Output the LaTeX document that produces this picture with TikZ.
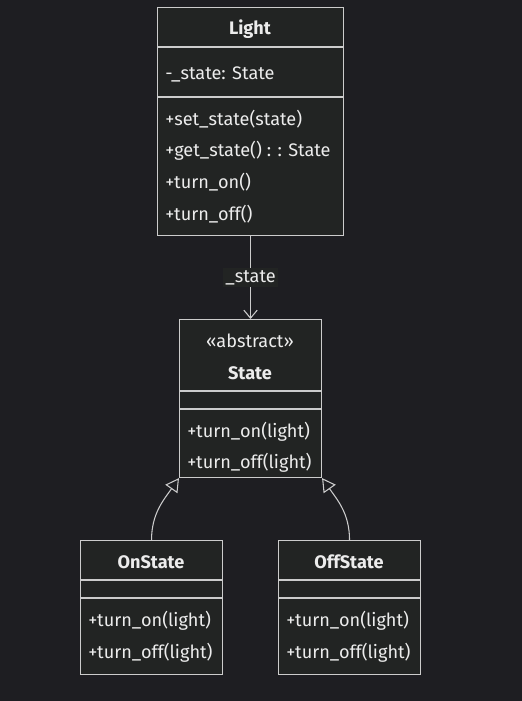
\documentclass[tikz,border=0pt]{standalone}
\usepackage{fontspec}
\setmainfont{Fira Sans}
\usetikzlibrary{arrows.meta,positioning}
\definecolor{bgc}{RGB}{30,30,34}
\definecolor{boxc}{RGB}{34,36,35}
\definecolor{lnc}{RGB}{204,204,204}
\definecolor{txc}{RGB}{236,236,236}
\def\px{0.75pt}
\begin{document}
\begin{tikzpicture}[x=0.75pt,y=-0.75pt,
  every node/.style={text=txc,font=\fontsize{13.6}{15}\selectfont},
  cls/.style={draw=lnc,fill=boxc,line width=0.8pt,inner sep=0,anchor=north west},
  mbr/.style={anchor=west,inner sep=0},
  ttl/.style={inner sep=0,font=\fontsize{13.6}{15}\selectfont\bfseries},
  sep/.style={draw=lnc,line width=0.8pt}]
  \fill[bgc] (0,0) rectangle (522,701);
  \useasboundingbox (0,0) rectangle (522,701);
  % Light
  \node[cls,minimum width=186*\px,minimum height=228*\px] (light) at (157,7) {};
  \node[ttl] (lightT) at (250,29) {Light};
  \draw[sep] (157,47) -- (343,47) (157,97) -- (343,97);
  \node[mbr] (lightA) at (165,74) {-\_state: State};
  \foreach \y/\t [count=\i] in {119/+set\_state(state),151/+get\_state() : : State,182/+turn\_on(),214/+turn\_off()}
    \node[mbr] (lightM\i) at (165,\y) {\t};
  % State
  \node[cls,minimum width=142*\px,minimum height=158*\px] (state) at (179,319) {};
  \node[inner sep=0] (stateS) at (250,341) {«abstract»};
  \node[ttl] (stateT) at (250,373) {State};
  \draw[sep] (179,391) -- (321,391) (179,409) -- (321,409);
  \node[mbr] (stateM1) at (187,432) {+turn\_on(light)};
  \node[mbr] (stateM2) at (187,463) {+turn\_off(light)};
  % OnState, OffState
  \foreach \n/\x/\t in {on/80/OnState,off/278/OffState} {
    \node[cls,minimum width=142*\px,minimum height=134*\px] (\n) at (\x,540) {};
    \node[ttl] (\n T) at (\x+71,562) {\t};
    \draw[sep] (\x,580) -- (\x+142,580) (\x,598) -- (\x+142,598);
    \node[mbr] (\n M1) at (\x+8,621) {+turn\_on(light)};
    \node[mbr] (\n M2) at (\x+8,653) {+turn\_off(light)};
  }
  % links
  \draw[lnc,line width=0.8pt,-{Straight Barb[length=6pt,width=10pt]}] (light.south) -- (state.north)
    node[midway,fill=boxc,inner sep=1.5pt] (lbl) {\_state};
  \draw[lnc,line width=0.8pt,-{Triangle[open,length=10pt,width=11pt]}] (on.north) to[out=90,in=-125] (state.south west);
  \draw[lnc,line width=0.8pt,-{Triangle[open,length=10pt,width=11pt]}] (off.north) to[out=90,in=-55] (state.south east);
\end{tikzpicture}
\end{document}
